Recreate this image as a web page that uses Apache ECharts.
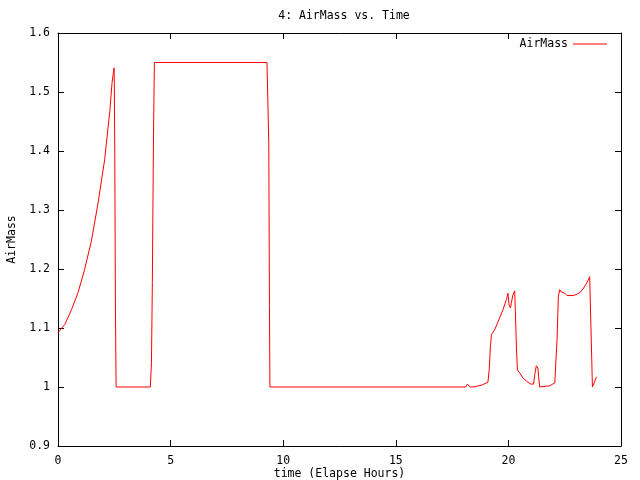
<!DOCTYPE html>
<html>
<head>
<meta charset="utf-8">
<script src="https://cdn.jsdelivr.net/npm/echarts@6/dist/echarts.min.js"></script>
<style>html,body{margin:0;padding:0;background:#fff;}#c{width:640px;height:480px;}</style>
</head>
<body>
<div id="c"></div>
<script>
var titleText = "4: AirMass vs. Time";
var xName = "time (Elapse Hours)";
var yName = "AirMass";
var seriesName = "AirMass";
var time = [0, 0.30, 0.60, 0.89, 1.18, 1.48, 1.78, 2.07, 2.30, 2.40, 2.49, 2.50, 2.52, 2.55, 2.58,
  4.10, 4.15, 4.19, 4.24, 4.28, 9.28, 9.30, 9.36, 9.39, 9.41,
  18.10, 18.18, 18.30, 18.43, 18.80, 19.09, 19.15, 19.20, 19.25, 19.39, 19.49, 19.61, 19.76, 19.91, 19.98,
  20.03, 20.09, 20.13, 20.20, 20.28, 20.31, 20.36, 20.40, 20.50, 20.65, 20.87, 20.99,
  21.12, 21.17, 21.24, 21.31, 21.34, 21.39, 21.83, 22.06, 22.13, 22.16, 22.22, 22.28, 22.35, 22.50, 22.60, 22.87,
  23.02, 23.14, 23.31, 23.46, 23.61, 23.64, 23.70, 23.73, 23.79, 23.86, 23.91];
var airmass = [1.092, 1.106, 1.131, 1.160, 1.199, 1.247, 1.312, 1.385, 1.467, 1.516, 1.541, 1.515, 1.405, 1.134, 1.0,
  1.0, 1.041, 1.177, 1.426, 1.55, 1.55, 1.548, 1.412, 1.138, 1.0,
  1.0, 1.005, 1.0, 1.0, 1.003, 1.008, 1.03, 1.068, 1.089, 1.097, 1.106, 1.117, 1.131, 1.148, 1.159,
  1.139, 1.134, 1.142, 1.156, 1.163, 1.128, 1.063, 1.029, 1.024, 1.015, 1.008, 1.005,
  1.005, 1.021, 1.036, 1.032, 1.018, 1.0, 1.002, 1.007, 1.008, 1.08, 1.154, 1.165, 1.161, 1.159, 1.155, 1.155,
  1.157, 1.159, 1.166, 1.175, 1.187, 1.139, 1.049, 1.0, 1.0, 1.012, 1.017];
var xTicks = {min: 0, max: 25, interval: 5};
var yTicks = {min: 0.9, max: 1.6, interval: 0.1};

var pts = time.map(function (t, i) { return [t, airmass[i]]; });
var font = 'DejaVu Sans Mono';
var fs = 11.5;
var txt = {color: '#000', fontFamily: font, fontSize: fs};
function axisBase(extra) {
  var o = {
    type: 'value',
    axisLine: {show: true, onZero: false, lineStyle: {color: '#000', width: 1}},
    axisTick: {show: true, inside: true, length: 6, lineStyle: {color: '#000'}},
    splitLine: {show: false},
    axisLabel: {show: false}
  };
  for (var k in extra) o[k] = extra[k];
  return o;
}
var chart = echarts.init(document.getElementById('c'));
chart.setOption({
  animation: false,
  backgroundColor: '#fff',
  title: {text: titleText, left: 339, textAlign: 'center', top: 5,
    textStyle: {color: '#000', fontFamily: font, fontSize: fs, fontWeight: 'normal'}},
  legend: {
    data: [{name: seriesName, icon: 'rect'}], right: 28, top: 33, align: 'right',
    itemWidth: 34, itemHeight: 1, itemGap: 0,
    textStyle: txt
  },
  grid: {left: 58, right: 19, top: 33, bottom: 34, containLabel: false, outerBoundsMode: 'none'},
  xAxis: [
    axisBase({position: 'bottom', min: xTicks.min, max: xTicks.max, interval: xTicks.interval,
      axisLabel: {show: true, margin: 9, color: '#000', fontFamily: font, fontSize: fs},
      name: xName, nameLocation: 'middle', nameGap: 22, nameMoveOverlap: false, nameTextStyle: txt}),
    axisBase({position: 'top', min: xTicks.min, max: xTicks.max, interval: xTicks.interval})
  ],
  yAxis: [
    axisBase({position: 'left', min: yTicks.min, max: yTicks.max, interval: yTicks.interval,
      axisLabel: {show: true, margin: 8, color: '#000', fontFamily: font, fontSize: fs,
        formatter: function (v) { return String(parseFloat(v.toFixed(1))); }},
      name: yName, nameLocation: 'middle', nameGap: 40, nameMoveOverlap: false, nameTextStyle: txt}),
    axisBase({position: 'right', min: yTicks.min, max: yTicks.max, interval: yTicks.interval})
  ],
  series: [{
    name: seriesName, type: 'line', data: pts, xAxisIndex: 0, yAxisIndex: 0,
    symbol: 'none', showSymbol: false, smooth: false,
    lineStyle: {color: '#ff0000', width: 1}, itemStyle: {color: '#ff0000'}
  }]
});
</script>
</body>
</html>
